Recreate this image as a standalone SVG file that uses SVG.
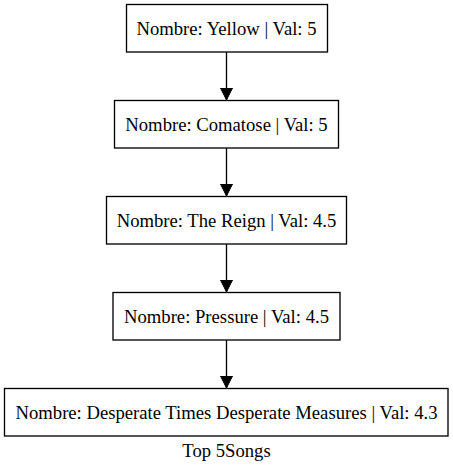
<svg xmlns="http://www.w3.org/2000/svg" width="453" height="473" viewBox="0 0 453 473">
<defs>
<marker id="ah" markerWidth="12" markerHeight="13" refX="12" refY="6" orient="auto" markerUnits="userSpaceOnUse">
<path d="M0,0 L12,6 L0,12 Z" fill="#000" stroke="#000" stroke-width="1"/>
</marker>
</defs>
<style>
.box{fill:#fff;stroke:#000;stroke-width:1.33}
.t{font-family:"Liberation Serif","Times New Roman",serif;font-size:18.67px;fill:#000;text-anchor:middle}
.e{stroke:#000;stroke-width:1.33;fill:none}
</style>
<rect width="453" height="473" fill="#fff"/>
<g id="connectors">
<line class="e" x1="226.5" y1="52" x2="226.5" y2="100" marker-end="url(#ah)"/>
<line class="e" x1="226.5" y1="148" x2="226.5" y2="196" marker-end="url(#ah)"/>
<line class="e" x1="226.5" y1="244" x2="226.5" y2="292" marker-end="url(#ah)"/>
<line class="e" x1="226.5" y1="340" x2="226.5" y2="388" marker-end="url(#ah)"/>
</g>
<g id="n1"><rect class="box" x="126.5" y="4.5" width="201" height="47.5"/><text class="t" x="226.5" y="34.5">Nombre: Yellow | Val: 5</text></g>
<g id="n2"><rect class="box" x="114.5" y="100.5" width="224" height="47.5"/><text class="t" x="226.5" y="130.5">Nombre: Comatose | Val: 5</text></g>
<g id="n3"><rect class="box" x="106.5" y="196.5" width="240" height="47.5"/><text class="t" x="226.5" y="226.5">Nombre: The Reign | Val: 4.5</text></g>
<g id="n4"><rect class="box" x="113" y="292.5" width="227" height="47.5"/><text class="t" x="226.5" y="322.5">Nombre: Pressure | Val: 4.5</text></g>
<g id="n5"><rect class="box" x="4.5" y="388.5" width="443.5" height="47.5"/><text class="t" x="226.5" y="418.5">Nombre: Desperate Times Desperate Measures | Val: 4.3</text></g>
<text class="t" x="226.5" y="457">Top 5Songs</text>
</svg>
